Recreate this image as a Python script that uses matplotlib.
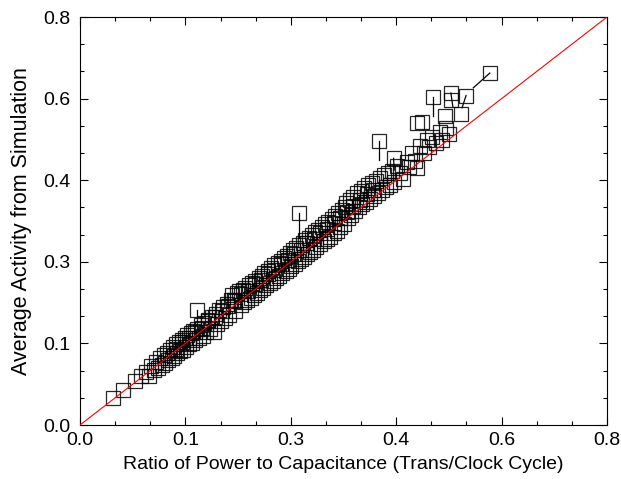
#!/usr/bin/env python3

import matplotlib
import matplotlib.pyplot as plt
from matplotlib.ticker import MultipleLocator, FuncFormatter
import numpy as np

matplotlib.use('Agg')

# squares (ratio of power to capacitance, average activity from simulation)
ratio = [0.050, 0.066, 0.083, 0.092, 0.100, 0.104, 0.108, 0.112, 0.116, 0.118,
         0.121, 0.124, 0.127, 0.129, 0.132, 0.134, 0.137, 0.139, 0.141, 0.143,
         0.146, 0.148, 0.150, 0.152, 0.155, 0.157, 0.159, 0.161, 0.163, 0.165,
         0.168, 0.170, 0.172, 0.175, 0.178, 0.180, 0.183, 0.186, 0.189, 0.192,
         0.195, 0.197, 0.200, 0.203, 0.206, 0.208, 0.211, 0.214, 0.217, 0.220,
         0.223, 0.226, 0.229, 0.231, 0.234, 0.236, 0.239, 0.242, 0.244, 0.247,
         0.249, 0.251, 0.254, 0.256, 0.259, 0.261, 0.264, 0.266, 0.268, 0.271,
         0.273, 0.276, 0.278, 0.280, 0.283, 0.285, 0.288, 0.290, 0.293, 0.295,
         0.298, 0.300, 0.302, 0.305, 0.307, 0.310, 0.312, 0.314, 0.317, 0.319,
         0.321, 0.324, 0.326, 0.328, 0.331, 0.333, 0.335, 0.338, 0.340, 0.342,
         0.345, 0.347, 0.349, 0.352, 0.354, 0.357, 0.359, 0.362, 0.365, 0.367,
         0.370, 0.372, 0.375, 0.377, 0.380, 0.382, 0.385, 0.387, 0.390, 0.392,
         0.395, 0.397, 0.400, 0.402, 0.404, 0.407, 0.410, 0.412, 0.415, 0.418,
         0.420, 0.423, 0.426, 0.428, 0.431, 0.434, 0.437, 0.440, 0.443, 0.446,
         0.449, 0.452, 0.455, 0.458, 0.461, 0.464, 0.467, 0.470, 0.473, 0.476,
         0.481, 0.485, 0.491, 0.496, 0.500, 0.504, 0.508, 0.511, 0.511, 0.519,
         0.516, 0.522, 0.526, 0.530, 0.535, 0.540, 0.546, 0.549, 0.554, 0.556,
         0.560, 0.563, 0.579,
         0.145, 0.155, 0.165, 0.175, 0.185, 0.195, 0.205, 0.215, 0.225, 0.235,
         0.245, 0.255, 0.265, 0.275, 0.285, 0.295, 0.305, 0.315, 0.325, 0.335,
         0.345, 0.355, 0.365, 0.375, 0.385, 0.395, 0.405, 0.415, 0.425, 0.435,
         0.445]
activity = [0.052, 0.068, 0.086, 0.097, 0.104, 0.096, 0.115, 0.107, 0.124, 0.111,
            0.131, 0.118, 0.137, 0.122, 0.141, 0.127, 0.148, 0.131, 0.152, 0.136,
            0.158, 0.141, 0.163, 0.146, 0.166, 0.148, 0.171, 0.152, 0.176, 0.158,
            0.181, 0.160, 0.184, 0.166, 0.189, 0.170, 0.196, 0.175, 0.201, 0.182,
            0.206, 0.188, 0.212, 0.182, 0.218, 0.198, 0.226, 0.203, 0.232, 0.209,
            0.238, 0.215, 0.245, 0.254, 0.246, 0.224, 0.258, 0.262, 0.236, 0.265,
            0.241, 0.268, 0.245, 0.274, 0.250, 0.278, 0.254, 0.283, 0.258, 0.289,
            0.264, 0.293, 0.269, 0.298, 0.274, 0.302, 0.279, 0.307, 0.283, 0.313,
            0.289, 0.318, 0.293, 0.322, 0.298, 0.327, 0.302, 0.331, 0.306, 0.337,
            0.311, 0.343, 0.316, 0.347, 0.321, 0.352, 0.326, 0.357, 0.330, 0.362,
            0.335, 0.367, 0.340, 0.372, 0.344, 0.378, 0.349, 0.383, 0.354, 0.388,
            0.360, 0.395, 0.365, 0.398, 0.369, 0.404, 0.376, 0.410, 0.381, 0.415,
            0.389, 0.421, 0.395, 0.428, 0.435, 0.405, 0.441, 0.412, 0.447, 0.420,
            0.455, 0.428, 0.459, 0.433, 0.464, 0.438, 0.470, 0.443, 0.474, 0.450,
            0.478, 0.455, 0.484, 0.460, 0.490, 0.466, 0.494, 0.471, 0.499, 0.477,
            0.507, 0.495, 0.482, 0.516, 0.505, 0.533, 0.517, 0.504, 0.592, 0.595,
            0.548, 0.534, 0.559, 0.545, 0.565, 0.553, 0.575, 0.559, 0.605, 0.583,
            0.570, 0.637, 0.609,
            0.150, 0.162, 0.171, 0.183, 0.191, 0.203, 0.212, 0.224, 0.233, 0.244,
            0.256, 0.263, 0.276, 0.284, 0.296, 0.303, 0.316, 0.323, 0.336, 0.344,
            0.357, 0.364, 0.377, 0.384, 0.397, 0.406, 0.418, 0.430, 0.441, 0.452,
            0.461]

# squares that sit away from the band, with the point their line runs to
out_ratio = [0.178, 0.333, 0.454, 0.476, 0.536, 0.563, 0.586, 0.622]
out_activity = [0.226, 0.416, 0.557, 0.523, 0.644, 0.651, 0.646, 0.690]
tip_ratio = [0.178, 0.333, 0.454, 0.477, 0.536, 0.566, 0.580, 0.597]
tip_activity = [0.210, 0.369, 0.520, 0.500, 0.605, 0.624, 0.622, 0.661]

plt.rcParams['font.family'] = ['Liberation Sans', 'DejaVu Sans']

fig = plt.figure(figsize=(6.21, 4.79), dpi=100)
ax = fig.add_axes([0.1288, 0.1127, 0.8487, 0.8518])

ax.plot([0, 0.8], [0, 0.8], color='red', lw=0.8, zorder=3)

for x0, y0, x1, y1 in zip(out_ratio, out_activity, tip_ratio, tip_activity):
    ax.plot([x0, x1], [y0, y1], color='black', lw=0.9, zorder=2)

sq = dict(marker='s', ms=9.5, mfc='none', mec='black', mew=0.9, ls='none', alpha=0.85, zorder=2)
ax.plot(ratio, activity, **sq)
ax.plot(out_ratio, out_activity, **sq)

ax.set_xlim(0, 0.8)
ax.set_ylim(0, 0.8)

trunc = FuncFormatter(lambda v, pos: '%.1f' % (np.floor(v * 10 + 1e-6) / 10))
for axis in (ax.xaxis, ax.yaxis):
    axis.set_major_locator(MultipleLocator(0.16))
    axis.set_minor_locator(MultipleLocator(0.16 / 3))
    axis.set_major_formatter(trunc)

ax.tick_params(which='both', direction='in', top=True, right=True, labelsize=14, width=0.8)
ax.tick_params(axis='y', which='both', pad=7)
ax.tick_params(axis='x', which='both', pad=5)
ax.tick_params(which='major', length=6)
ax.tick_params(which='minor', length=3)

ax.set_xlabel('Ratio of Power to Capacitance (Trans/Clock Cycle)', fontsize=14, labelpad=5)
ax.set_ylabel('Average Activity from Simulation', fontsize=15.5, labelpad=8)

plt.savefig('out.png', dpi=100)
